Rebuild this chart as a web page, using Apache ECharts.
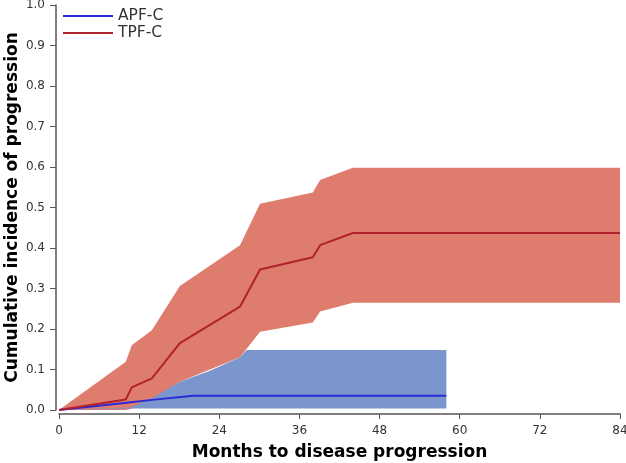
<!DOCTYPE html>
<html>
<head>
<meta charset="utf-8">
<script src="https://cdn.jsdelivr.net/npm/echarts@6/dist/echarts.min.js"></script>
<style>
  html, body { margin: 0; padding: 0; background: #fff; }
</style>
</head>
<body>
<div id="container" style="width: 626px; height: 463px"></div>
<script>
// x ticks (months) and y ticks
const xTicks = [0, 12, 24, 36, 48, 60, 72, 84]
const yTicks = [0, 0.1, 0.2, 0.3, 0.4, 0.5, 0.6, 0.7, 0.8, 0.9, 1.0]

// APF-C: estimate + confidence band
const apfMonths = [0, 10.1, 13.9, 20.1, 58]
const apfValues = [0, 0.018, 0.025, 0.035, 0.035]
const apfBandMonths = [0, 10.6, 13.9, 18.1, 22.6, 27.1, 28.1, 58]
const apfLower = [0, 0.004, 0.004, 0.004, 0.004, 0.004, 0.004, 0.004]
const apfUpper = [0, 0.006, 0.029, 0.070, 0.097, 0.130, 0.148, 0.148]

// TPF-C: estimate + confidence band
const tpfMonths = [0, 10, 10.9, 13.9, 18.1, 27.1, 30.1, 38, 39.1, 44, 84]
const tpfValues = [0, 0.026, 0.056, 0.078, 0.165, 0.255, 0.347, 0.377, 0.407, 0.437, 0.437]
const tpfLower = [0, 0, 0.003, 0.025, 0.070, 0.130, 0.193, 0.216, 0.243, 0.265, 0.265]
const tpfUpper = [0, 0.119, 0.160, 0.197, 0.306, 0.407, 0.509, 0.537, 0.568, 0.598, 0.598]

const zip = (xs, ys) => xs.map((x, i) => [x, ys[i]])

// confidence band as a polygon: upper edge forward, lower edge back
function band(name, xs, lo, hi, color) {
  const pts = zip(xs, hi).concat(zip(xs, lo).reverse())
  return {
    name: name, type: 'custom', silent: true,
    data: [0],
    renderItem: (params, api) => ({
      type: 'polygon',
      shape: { points: pts.map((p) => api.coord(p)) },
      style: { fill: color }
    })
  }
}

const myChart = echarts.init(document.getElementById('container'))
const option = {
  animation: false,
  backgroundColor: '#fff',
  textStyle: { fontFamily: 'DejaVu Sans' },
  grid: { left: 59, right: 6, top: 5, bottom: 53, outerBoundsMode: 'none', containLabel: false },
  legend: {
    data: ['APF-C', 'TPF-C'],
    orient: 'vertical',
    left: 58, top: 3,
    icon: 'rect', itemWidth: 50, itemHeight: 2, itemGap: 1,
    textStyle: { fontSize: 15.5, color: '#333', fontFamily: 'DejaVu Sans' }
  },
  xAxis: {
    type: 'value', min: 0, max: 84, interval: 12, offset: 4,
    name: 'Months to disease progression', nameLocation: 'middle', nameGap: 30, nameMoveOverlap: false,
    nameTextStyle: { fontSize: 17, fontWeight: 'bold', color: '#000', fontFamily: 'DejaVu Sans' },
    axisLine: { onZero: false, lineStyle: { color: '#555', width: 1.5 } },
    axisTick: { show: true, length: 5, inside: false, lineStyle: { color: '#555' } },
    axisLabel: { fontSize: 12, color: '#333', margin: 11 },
    splitLine: { show: false }
  },
  yAxis: {
    type: 'value', min: 0, max: 1, interval: 0.1, offset: 3,
    name: 'Cumulative incidence of progression', nameLocation: 'middle', nameGap: 35, nameMoveOverlap: false,
    nameTextStyle: { fontSize: 17, fontWeight: 'bold', color: '#000', fontFamily: 'DejaVu Sans' },
    axisLine: { show: true, onZero: false, lineStyle: { color: '#555', width: 1.5 } },
    axisTick: { show: true, length: 6, lineStyle: { color: '#555' } },
    axisLabel: { fontSize: 12, color: '#333', margin: 11, formatter: (v) => v.toFixed(1) },
    splitLine: { show: false }
  },
  series: [
    band('tpf-band', tpfMonths, tpfLower, tpfUpper, '#DE7C6D'),
    band('apf-band', apfBandMonths, apfLower, apfUpper, '#7B96CC'),
    {
      name: 'APF-C', type: 'line', data: zip(apfMonths, apfValues),
      symbol: 'none', color: '#2A2AD6', lineStyle: { width: 2, color: '#2A2AD6' }
    },
    {
      name: 'TPF-C', type: 'line', data: zip(tpfMonths, tpfValues),
      symbol: 'none', color: '#B2212E', lineStyle: { width: 2, color: '#B2212E' }
    }
  ]
}
myChart.setOption(option)
</script>
</body>
</html>
